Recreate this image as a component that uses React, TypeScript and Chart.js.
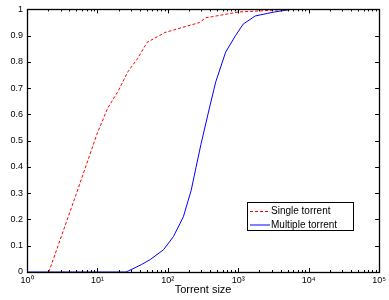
import React, { useEffect, useRef } from "react";
import { Chart, registerables } from "chart.js";

Chart.register(...registerables);

const singleX = [2.04, 4.9, 10, 14, 19.5, 27, 37, 51, 71, 91, 133, 282, 347, 1000, 3160, 6000];
const singleY = [0, 0.29, 0.53, 0.624, 0.687, 0.762, 0.812, 0.875, 0.896, 0.912, 0.925, 0.95, 0.968, 0.99, 0.997, 1.0];

const multiX = [1, 25, 27, 42, 56, 87, 120, 166, 214, 251, 295, 389, 479, 661, 912, 1175, 1738, 2630, 3236, 5620, 6200];
const multiY = [0, 0, 0.003, 0.028, 0.047, 0.085, 0.135, 0.21, 0.31, 0.398, 0.486, 0.624, 0.724, 0.837, 0.9, 0.944, 0.975, 0.985, 0.99, 1.0, 1.0];

const xTickLabels: Record<number, string> = {
  1: "10\u2070",
  10: "10\u00b9",
  100: "10\u00b2",
  1000: "10\u00b3",
  10000: "10\u2074",
  100000: "10\u2075",
};
const yTicks = [0, 0.1, 0.2, 0.3, 0.4, 0.5, 0.6, 0.7, 0.8, 0.9, 1];
const legendLabels = ["Single torrent", "Multiple torrent"];
const xTitle = "Torrent size";

const FONT = "'Liberation Sans', Arial, sans-serif";

const framePlugin = {
  id: "frameTicks",
  afterDatasetsDraw(chart: any) {
    const { ctx, chartArea: a, scales } = chart;
    const xs = scales.x;
    const ys = scales.y;
    ctx.save();
    ctx.strokeStyle = "#000";
    ctx.lineWidth = 1;
    // inward ticks
    ctx.beginPath();
    for (let d = 0; d < 5; d++) {
      for (let m = 1; m < 10; m++) {
        const v = Math.pow(10, d) * m;
        const px = Math.round(xs.getPixelForValue(v)) + 0.5;
        const len = m === 1 ? 4 : 2;
        ctx.moveTo(px, a.bottom);
        ctx.lineTo(px, a.bottom - len);
        ctx.moveTo(px, a.top);
        ctx.lineTo(px, a.top + len);
      }
    }
    for (const t of yTicks) {
      const py = Math.round(ys.getPixelForValue(t)) + 0.5;
      ctx.moveTo(a.left, py);
      ctx.lineTo(a.left + 4, py);
      ctx.moveTo(a.right, py);
      ctx.lineTo(a.right - 4, py);
    }
    ctx.stroke();
    // frame
    ctx.lineWidth = 1.3;
    ctx.strokeRect(Math.round(a.left) + 0.5, Math.round(a.top) + 0.5, Math.round(a.right - a.left), Math.round(a.bottom - a.top));

    // legend
    const bx = 247.5, by = 202.5, bw = 106, bh = 28;
    ctx.fillStyle = "#fff";
    ctx.fillRect(bx, by, bw, bh);
    ctx.lineWidth = 1;
    ctx.strokeRect(bx, by, bw, bh);
    const ds = chart.data.datasets;
    const rows = [211, 224.5];
    ctx.font = `10px ${FONT}`;
    ctx.textBaseline = "middle";
    ctx.textAlign = "left";
    for (let i = 0; i < ds.length; i++) {
      ctx.strokeStyle = ds[i].borderColor;
      ctx.setLineDash(ds[i].borderDash || []);
      ctx.beginPath();
      ctx.moveTo(250, rows[i] + 0.5);
      ctx.lineTo(270, rows[i] + 0.5);
      ctx.stroke();
      ctx.setLineDash([]);
      ctx.fillStyle = "#000";
      ctx.fillText(legendLabels[i], 271, rows[i] + 0.5);
    }
    ctx.restore();
  },
};

export default function App() {
  const ref = useRef<HTMLCanvasElement | null>(null);
  useEffect(() => {
    document.body.style.margin = "0";
    const chart = new Chart(ref.current as HTMLCanvasElement, {
      type: "line",
      data: {
        datasets: [
          {
            label: legendLabels[0],
            data: singleX.map((x, i) => ({ x, y: singleY[i] })),
            borderColor: "#ff0000",
            borderWidth: 1,
            borderDash: [3, 2],
            pointRadius: 0,
            tension: 0,
            fill: false,
          },
          {
            label: legendLabels[1],
            data: multiX.map((x, i) => ({ x, y: multiY[i] })),
            borderColor: "#0000ff",
            borderWidth: 1,
            pointRadius: 0,
            tension: 0,
            fill: false,
          },
        ],
      },
      options: {
        animation: false,
        responsive: false,
        maintainAspectRatio: false,
        layout: { padding: { top: 7, right: 3, left: 0, bottom: 0 } },
        plugins: { legend: { display: false }, tooltip: { enabled: false } },
        scales: {
          x: {
            type: "logarithmic",
            min: 1,
            max: 100000,
            grid: { display: false, drawTicks: false },
            border: { display: false },
            afterBuildTicks: (s: any) => {
              s.ticks = Object.keys(xTickLabels).map((k) => ({ value: Number(k) }));
            },
            afterFit: (s: any) => {
              s.height = 28;
            },
            ticks: {
              autoSkip: false,
              maxRotation: 0,
              padding: 3,
              color: "#000",
              font: { family: FONT, size: 9 },
              callback: (v: any) => xTickLabels[Number(v)] ?? "",
            },
            title: {
              display: true,
              text: xTitle,
              color: "#000",
              font: { family: FONT, size: 11 },
              padding: { top: 0, bottom: 3 },
            },
          },
          y: {
            type: "linear",
            min: 0,
            max: 1,
            grid: { display: false, drawTicks: false },
            border: { display: false },
            afterBuildTicks: (s: any) => {
              s.ticks = yTicks.map((v) => ({ value: v }));
            },
            afterFit: (s: any) => {
              s.width = 27;
            },
            ticks: {
              padding: 4,
              color: "#000",
              font: { family: FONT, size: 9 },
              callback: (v: any) => String(Math.round(Number(v) * 10) / 10),
            },
          },
        },
      },
      plugins: [framePlugin],
    } as any);
    return () => chart.destroy();
  }, []);
  return (
    <div style={{ width: 389, height: 300 }}>
      <canvas ref={ref} width={389} height={300} style={{ display: "block" }} />
    </div>
  );
}
